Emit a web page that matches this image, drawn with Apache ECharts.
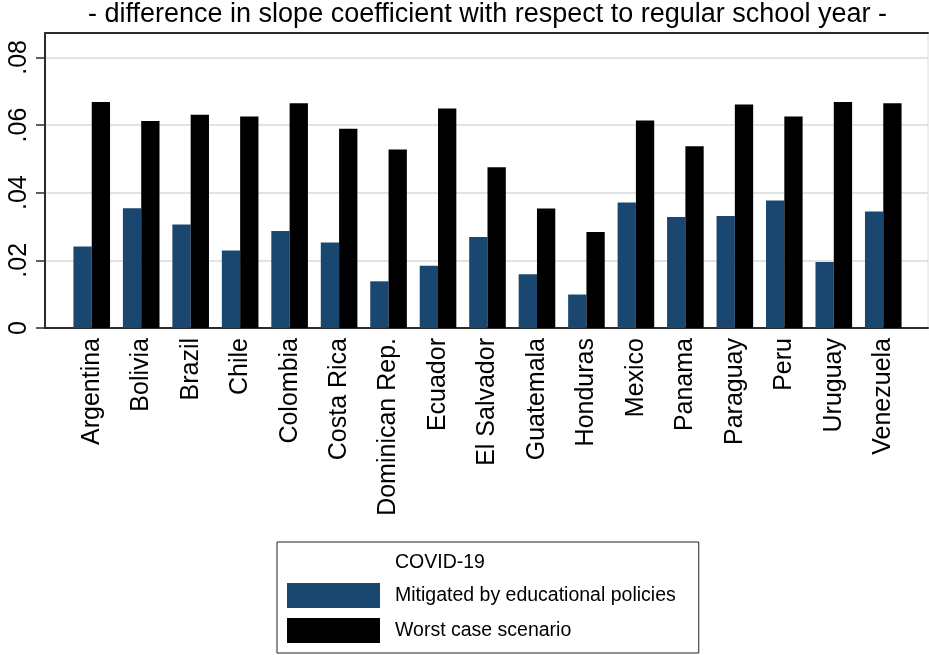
<!DOCTYPE html>
<html>
<head>
<meta charset="utf-8">
<script src="https://cdn.jsdelivr.net/npm/echarts@6/dist/echarts.min.js"></script>
<style>
html,body{margin:0;padding:0;background:#fff;}
#chart{width:929px;height:655px;}
</style>
</head>
<body>
<div id="chart"></div>
<script>
const categories = ['Argentina','Bolivia','Brazil','Chile','Colombia','Costa Rica','Dominican Rep.','Ecuador','El Salvador','Guatemala','Honduras','Mexico','Panama','Paraguay','Peru','Uruguay','Venezuela'];
const mitigated = [0.0241,0.0354,0.0306,0.0229,0.0287,0.0253,0.0138,0.0184,0.0269,0.0159,0.0099,0.0371,0.0328,0.0331,0.0377,0.0195,0.0344];
const worstCase = [0.0668,0.0612,0.0630,0.0625,0.0664,0.0589,0.0528,0.0649,0.0475,0.0353,0.0284,0.0613,0.0537,0.0661,0.0625,0.0668,0.0664];
const seriesNames = ['Mitigated by educational policies','Worst case scenario'];
const legendTitle = 'COVID-19';
const chartTitle = '- difference in slope coefficient with respect to regular school year -';

const FONT = '"Liberation Sans", Arial, Helvetica, sans-serif';
const YMAX = 0.0872;
const chart = echarts.init(document.getElementById('chart'), null, {renderer:'canvas'});
chart.setOption({
  backgroundColor:'#fff',
  animation:false,
  title:{
    text: chartTitle, left: 88, top: 1, padding: 0,
    textStyle:{fontFamily:FONT, fontSize:27, fontWeight:'normal', color:'#000'}
  },
  grid:[
    {left:45, right:1, top:33, bottom:327, show:true, borderColor:'#dcdcdc', borderWidth:1},
    {left:67, right:21, top:33, bottom:327}
  ],
  xAxis:[
    {gridIndex:0, type:'value', min:0, max:1, position:'bottom',
     axisLine:{show:true, onZero:false, lineStyle:{color:'#2b2b2b', width:2}},
     axisTick:{show:false}, axisLabel:{show:false}, splitLine:{show:false}},
    {gridIndex:1, type:'category', data:categories,
     axisLine:{show:false}, axisTick:{show:false},
     axisLabel:{interval:0, rotate:90, margin:10, fontFamily:FONT, fontSize:25, color:'#000'}},
    {gridIndex:0, type:'value', min:0, max:1, position:'top',
     axisLine:{show:true, onZero:false, lineStyle:{color:'#2b2b2b', width:2}},
     axisTick:{show:false}, axisLabel:{show:false}, splitLine:{show:false}}
  ],
  yAxis:[
    {gridIndex:0, type:'value', min:0, max:YMAX, interval:0.02,
     axisLine:{show:true, onZero:false, lineStyle:{color:'#2b2b2b', width:2}},
     axisTick:{show:true, length:9, lineStyle:{color:'#2b2b2b', width:1.5}},
     axisLabel:{rotate:90, margin:13, fontFamily:FONT, fontSize:25, color:'#000', showMaxLabel:false,
       formatter:function(v){ if (Math.abs(v) < 1e-9) return '0'; return '.' + v.toFixed(2).split('.')[1]; }},
     splitLine:{show:true, lineStyle:{color:'#e3e3e3', width:2}}},
    {gridIndex:1, type:'value', min:0, max:YMAX, show:false, splitLine:{show:false}}
  ],
  legend:{
    orient:'vertical', left:277, top:542,
    padding:[41, 23, 10, 10],
    itemWidth:93, itemHeight:25, itemGap:10,
    icon:'rect',
    borderColor:'#222', borderWidth:1,
    data:seriesNames,
    textStyle:{fontFamily:FONT, fontSize:19.5, color:'#000', padding:[0,0,0,10]}
  },
  graphic:[
    {type:'text', left:395, top:553, style:{text:legendTitle, font:'19.5px ' + FONT, fill:'#000'}}
  ],
  series:[
    {name:seriesNames[0], type:'bar', xAxisIndex:1, yAxisIndex:1, data:mitigated,
     barWidth:'37%', barGap:'0%', itemStyle:{color:'#1a476f'}},
    {name:seriesNames[1], type:'bar', xAxisIndex:1, yAxisIndex:1, data:worstCase,
     barWidth:'37%', barGap:'0%', itemStyle:{color:'#000000'}}
  ]
});
</script>
</body>
</html>
